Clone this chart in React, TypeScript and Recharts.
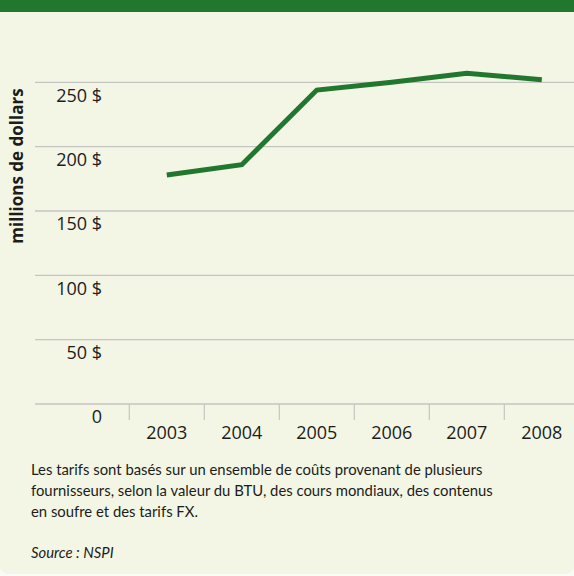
import React from 'react';
import { LineChart, Line, XAxis, YAxis, ReferenceLine } from 'recharts';

// données (millions de dollars)
const years = ['2003', '2004', '2005', '2006', '2007', '2008'];
const costs = [178, 186, 244, 250, 257, 252];
const yTicks = [0, 50, 100, 150, 200, 250];

const noteLines = [
    'Les tarifs sont basés sur un ensemble de coûts provenant de plusieurs',
    'fournisseurs, selon la valeur du BTU, des cours mondiaux, des contenus',
    'en soufre et des tarifs FX.',
];
const sourceText = 'Source : NSPI';

const data = years.map((year, i) => ({ year, cost: costs[i] }));

const GREEN = '#22772e';
const BG = '#f3f6e5';
const GRID = '#c4c5c2';
const TEXT = '#1c1c1a';
const HALF_BAND = 37.5;

const YearTick = ({ x, y, payload }) => (
    <g>
        <line x1={x - HALF_BAND} x2={x - HALF_BAND} y1={y} y2={y + 16} stroke={GRID} strokeWidth={1.2} />
        <text x={x} y={y + 34.5} textAnchor="middle" fill={TEXT} fontSize={18} fontFamily="Open Sans">
            {payload.value}
        </text>
    </g>
);

// libellés sous la ligne de grille, alignés à droite à x=102
const DollarTick = ({ y, payload }) => (
    <text x={102} y={y + 19.3} textAnchor="end" fill={TEXT} fontSize={18} fontFamily="Open Sans">
        {payload.value === 0 ? '0' : `${payload.value} $`}
    </text>
);

export default function App() {
    return (
        <div style={{ position: 'absolute', left: 0, top: 0, width: 574, height: 576, background: '#fafbf4', overflow: 'hidden' }}>
            <div style={{ position: 'absolute', left: 0, top: 0, width: 574, height: 574, background: BG, borderBottomLeftRadius: 8, borderBottomRightRadius: 8, overflow: 'hidden' }}>
                <div style={{ position: 'absolute', left: 0, top: 0, width: 574, height: 12, background: GREEN }} />
                <div style={{ position: 'absolute', left: 0, top: 0 }}>
                    <LineChart width={580} height={444} data={data} margin={{ top: 18, right: 0, left: 0, bottom: 0 }}>
                        <XAxis
                            dataKey="year"
                            height={40}
                            axisLine={false}
                            tickLine={false}
                            tickSize={0}
                            tickMargin={0}
                            padding={{ left: 131.8, right: 38.2 }}
                            tick={<YearTick />}
                            interval={0}
                        />
                        <YAxis
                            width={35}
                            domain={[0, 300]}
                            ticks={yTicks}
                            axisLine={false}
                            tickLine={false}
                            tick={<DollarTick />}
                            interval={0}
                        />
                        {/* lignes de grille aux graduations seulement */}
                        {yTicks.map(t => (
                            <ReferenceLine key={t} y={t} stroke={GRID} strokeWidth={1.3} />
                        ))}
                        <Line
                            type="linear"
                            dataKey="cost"
                            stroke={GREEN}
                            strokeWidth={5}
                            dot={false}
                            activeDot={false}
                            isAnimationActive={false}
                        />
                    </LineChart>
                </div>
                <div
                    style={{
                        position: 'absolute', left: 17, top: 166, width: 220,
                        transform: 'translate(-50%, -50%) rotate(-90deg)',
                        textAlign: 'center', fontFamily: 'Open Sans', fontWeight: 700, fontSize: 17,
                        color: TEXT, whiteSpace: 'nowrap', lineHeight: '20px',
                    }}
                >
                    millions de dollars
                </div>
                <div style={{ position: 'absolute', left: 31, top: 458.5, fontFamily: 'Lato', fontSize: 14.85, lineHeight: '21px', color: TEXT, whiteSpace: 'nowrap' }}>
                    {noteLines.map(line => <div key={line}>{line}</div>)}
                </div>
                <div style={{ position: 'absolute', left: 31, top: 542, fontFamily: 'Lato', fontStyle: 'italic', fontSize: 14.85, lineHeight: '21px', color: TEXT }}>
                    {sourceText}
                </div>
            </div>
        </div>
    );
}
